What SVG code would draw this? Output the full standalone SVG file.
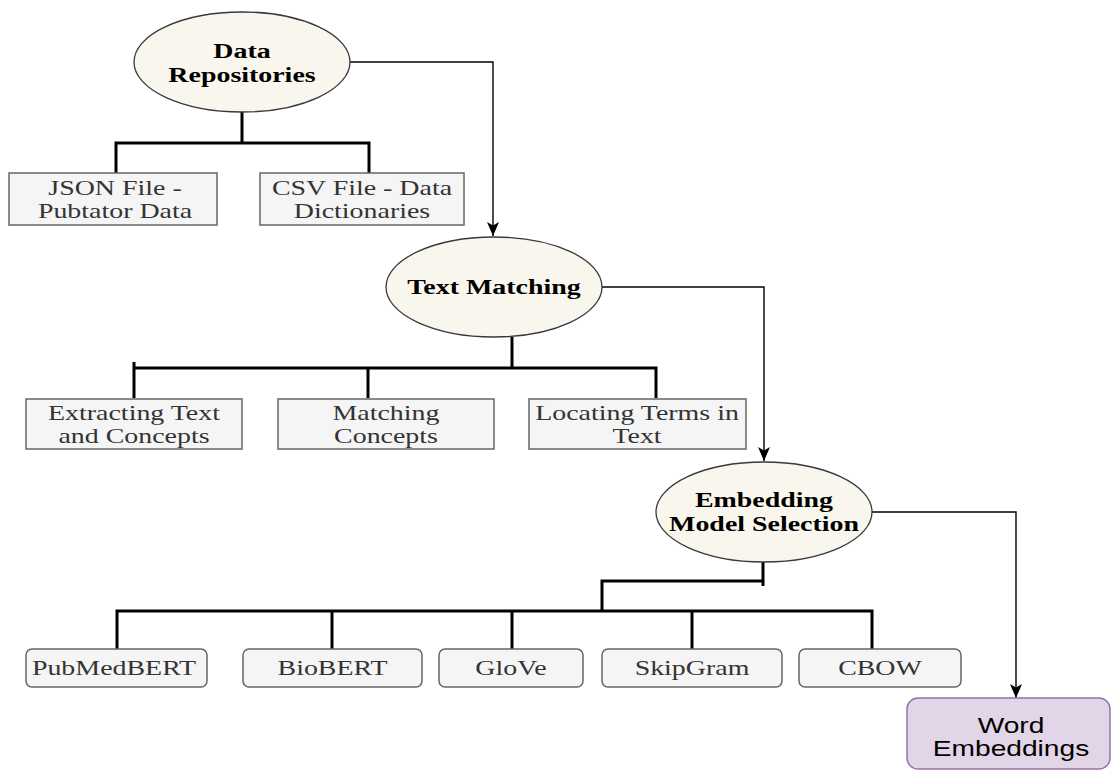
<svg xmlns="http://www.w3.org/2000/svg" width="1112" height="770" viewBox="0 0 1112 770">
<style>
.ell{fill:#f9f7ed;stroke:#36393d;stroke-width:1.3}
.box{fill:#f5f5f5;stroke:#666666;stroke-width:1.5}
.rbox{fill:#f5f5f5;stroke:#666666;stroke-width:1.5}
.we{fill:#e1d5e7;stroke:#9673a6;stroke-width:1.5}
.tb{font-family:"Liberation Serif","Times New Roman",serif;font-weight:bold;font-size:21px;fill:#000;text-anchor:middle}
.tr{font-family:"Liberation Serif","Times New Roman",serif;font-size:21px;fill:#333333;text-anchor:middle}
.ts{font-family:"Liberation Sans",Arial,sans-serif;font-size:22px;fill:#000;text-anchor:middle}
.thick{fill:none;stroke:#000;stroke-width:3}
.thin{fill:none;stroke:#000;stroke-width:1.4}
</style>
<defs>
<marker id="arr" viewBox="0 0 14 14" refX="14" refY="7" markerWidth="14" markerHeight="14" markerUnits="userSpaceOnUse" orient="auto">
<path d="M0,1 L14,7 L0,13 L3.5,7 z" fill="#000"/>
</marker>
</defs>
<g id="connectors">
<path class="thick" d="M242 112 V143 M116 173 V143 H369 V173"/>
<path class="thick" d="M512 337 V368 M134 362 V398 M134 368 H656 V398 M368 368 V398"/>
<path class="thick" d="M763 562 V586 M763 581 H602 V611 M117 649 V611 H872 V649 M332 611 V649 M512 611 V649 M692 611 V649"/>
<path class="thin" marker-end="url(#arr)" d="M350 62 H493 V236"/>
<path class="thin" marker-end="url(#arr)" d="M602 287 H764 V461"/>
<path class="thin" marker-end="url(#arr)" d="M872 512 H1016 V698"/>
</g>
<g id="data-repositories">
<ellipse class="ell" cx="242" cy="62" rx="108" ry="50"/>
<text class="tb" transform="translate(242 0) scale(1.33 1)" x="0" y="58">Data</text>
<text class="tb" transform="translate(242 0) scale(1.33 1)" x="0" y="82">Repositories</text>
</g>
<g id="json-file">
<rect class="box" x="9" y="173" width="208" height="52"/>
<text class="tr" transform="translate(115 0) scale(1.33 1)" x="0" y="195">JSON File -</text>
<text class="tr" transform="translate(115 0) scale(1.33 1)" x="0" y="218">Pubtator Data</text>
</g>
<g id="csv-file">
<rect class="box" x="260" y="173" width="204" height="52"/>
<text class="tr" transform="translate(362 0) scale(1.33 1)" x="0" y="195">CSV File - Data</text>
<text class="tr" transform="translate(362 0) scale(1.33 1)" x="0" y="218">Dictionaries</text>
</g>
<g id="text-matching">
<ellipse class="ell" cx="494" cy="287" rx="108" ry="50"/>
<text class="tb" transform="translate(494 0) scale(1.33 1)" x="0" y="294">Text Matching</text>
</g>
<g id="extracting">
<rect class="box" x="26" y="399" width="216" height="50"/>
<text class="tr" transform="translate(134 0) scale(1.33 1)" x="0" y="420">Extracting Text</text>
<text class="tr" transform="translate(134 0) scale(1.33 1)" x="0" y="443">and Concepts</text>
</g>
<g id="matching">
<rect class="box" x="278" y="399" width="216" height="50"/>
<text class="tr" transform="translate(386 0) scale(1.33 1)" x="0" y="420">Matching</text>
<text class="tr" transform="translate(386 0) scale(1.33 1)" x="0" y="443">Concepts</text>
</g>
<g id="locating">
<rect class="box" x="529" y="399" width="217" height="50"/>
<text class="tr" transform="translate(637 0) scale(1.33 1)" x="0" y="420">Locating Terms in</text>
<text class="tr" transform="translate(637 0) scale(1.33 1)" x="0" y="443">Text</text>
</g>
<g id="embedding-model-selection">
<ellipse class="ell" cx="764" cy="512" rx="108" ry="50"/>
<text class="tb" transform="translate(764 0) scale(1.33 1)" x="0" y="507">Embedding</text>
<text class="tb" transform="translate(764 0) scale(1.33 1)" x="0" y="531">Model Selection</text>
</g>
<g id="pubmedbert">
<rect class="rbox" x="26" y="649" width="181" height="38" rx="6"/>
<text class="tr" transform="translate(114 0) scale(1.33 1)" x="0" y="675">PubMedBERT</text>
</g>
<g id="biobert">
<rect class="rbox" x="243" y="649" width="179" height="38" rx="6"/>
<text class="tr" transform="translate(332.5 0) scale(1.33 1)" x="0" y="675">BioBERT</text>
</g>
<g id="glove">
<rect class="rbox" x="439" y="649" width="144" height="38" rx="6"/>
<text class="tr" transform="translate(511 0) scale(1.33 1)" x="0" y="675">GloVe</text>
</g>
<g id="skipgram">
<rect class="rbox" x="602" y="649" width="180" height="38" rx="6"/>
<text class="tr" transform="translate(692 0) scale(1.33 1)" x="0" y="675">SkipGram</text>
</g>
<g id="cbow">
<rect class="rbox" x="799" y="649" width="162" height="38" rx="6"/>
<text class="tr" transform="translate(880 0) scale(1.33 1)" x="0" y="675">CBOW</text>
</g>
<g id="word-embeddings">
<rect class="we" x="907" y="698" width="203" height="71" rx="11"/>
<text class="ts" transform="translate(1011 0) scale(1.28 1)" x="0" y="733">Word</text>
<text class="ts" transform="translate(1011 0) scale(1.28 1)" x="0" y="756">Embeddings</text>
</g>
</svg>
